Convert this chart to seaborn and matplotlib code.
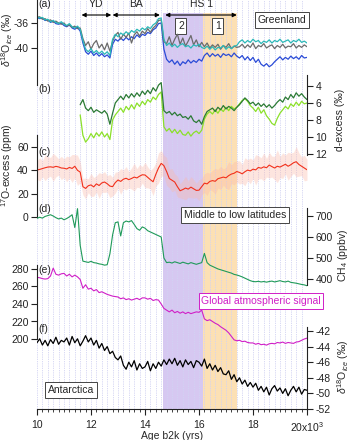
import numpy as np
import seaborn as sns
import matplotlib.pyplot as plt
from matplotlib.ticker import MultipleLocator

sns.set_style("white")
plt.rcParams['font.family'] = ['Liberation Sans', 'DejaVu Sans']
plt.rcParams['axes.unicode_minus'] = False
plt.rcParams['mathtext.fontset'] = 'custom'
plt.rcParams['mathtext.rm'] = 'Liberation Sans'
plt.rcParams['mathtext.it'] = 'Liberation Sans:italic'

# ages in ka b2k, 0.1 ka steps
ages = np.round(np.linspace(10, 20, 101), 1)
ages_dx = ages[16:]   # d-excess starts at 11.6 ka

# (a) Greenland d18O (permil)
g_gray = [-35.1, -35.0, -35.4, -35.3, -35.7, -35.5, -35.9, -35.7, -36.0, -36.2, -36.0, -36.5, -36.3, -36.7, -36.5, -36.9, -36.8,
          -38.5,
          -39.6, -39.0, -40.2, -39.3, -38.8, -40.0, -39.4, -40.3, -39.2, -40.5,
          -38.9,
          -38.0, -37.5, -38.6, -37.8, -38.3, -37.6, -39.2, -37.9, -37.4, -38.1, -37.3, -37.7, -36.9, -37.5, -36.8, -36.4,
          -35.6, -35.5,
          -39.0,
          -39.3, -38.2, -39.6, -38.6, -37.8, -39.4, -38.4, -39.7, -38.9, -38.0, -39.5, -38.7, -39.8, -39.1,
          -39.8, -39.2, -40.0, -39.5, -39.9, -39.4, -40.2, -39.6, -39.9, -39.3, -40.1, -39.7, -39.9,
          -39.8, -39.4, -40.0, -39.5, -39.9, -39.2, -40.1, -39.6, -39.8, -39.3, -40.0, -39.7, -39.5, -40.1, -39.6, -39.9,
          -39.4, -40.0, -39.7, -39.8, -39.3, -40.0, -39.6, -39.9, -39.5, -39.8]
g_cyan = [-35.0, -35.2, -35.1, -35.5, -35.4, -35.8, -35.6, -35.9, -36.1, -35.8, -36.2, -36.4, -36.1, -36.6, -36.8, -36.5, -37.0,
          -38.8,
          -40.2, -40.6, -40.1, -40.8, -40.4, -40.9, -40.5, -41.0, -40.6, -41.2,
          -38.6,
          -37.8, -38.2, -37.6, -37.9, -37.4, -37.8, -37.2, -37.5, -37.0, -37.3, -36.8, -37.1, -36.6, -36.9, -36.3, -36.0,
          -35.3, -35.2,
          -38.6,
          -39.6, -39.2, -39.8, -39.4, -39.9, -39.5, -39.3, -39.8, -39.6, -40.0, -39.5, -39.7, -39.4, -39.9,
          -40.1, -39.7, -40.2, -39.8, -40.3, -39.9, -40.0, -39.6, -40.2, -39.8, -40.1, -39.7, -39.6,
          -39.0, -38.7, -39.2, -38.8, -39.1, -38.6, -39.0, -38.8, -39.3, -38.9, -39.1, -38.7, -39.2, -38.8, -39.0, -38.6,
          -39.1, -38.9, -38.7, -39.2, -38.8, -39.0, -38.6, -39.1, -38.9, -39.2]
g_blue = [-35.1, -35.3, -35.2, -35.6, -35.5, -35.9, -35.7, -36.1, -36.2, -36.0, -36.4, -36.6, -36.3, -36.8, -37.0, -36.7, -37.3,
          -39.2,
          -40.6, -41.0, -40.5, -41.2, -40.8, -41.3, -40.9, -41.4, -41.1, -41.6,
          -39.4,
          -38.6, -38.9, -38.4, -38.8, -38.3, -38.7, -38.2, -38.5, -37.9, -38.3, -37.8, -38.0, -37.5, -37.7, -37.1, -36.8,
          -36.1, -36.0,
          -40.2,
          -41.8, -42.3, -41.9, -42.6, -42.1, -42.8, -42.2, -42.5, -41.9, -42.4, -42.0, -42.3, -41.8, -42.1,
          -41.2, -40.8, -41.4, -40.9, -41.3, -41.0, -41.5, -40.9, -41.2, -41.0, -41.4, -40.8, -41.3,
          -41.6, -41.2, -41.9, -41.4, -42.0, -41.5, -42.3, -41.8, -42.6, -42.9, -42.5, -43.0, -42.7, -42.2, -41.8, -41.4,
          -41.9, -41.5, -41.8, -41.3, -41.7, -41.4, -41.8, -41.2, -41.6, -41.5]

# (b) d-excess (permil)
dx_dark = [6.2, 5.6, 6.6, 6.9, 6.5, 7.1, 6.8, 7.0, 7.2, 6.9, 7.3, 8.5, 7.2, 6.0, 5.6, 5.2, 5.6, 5.0, 5.4, 4.9, 5.3,
           4.8, 5.2, 4.6, 5.0, 4.5, 4.9, 4.2, 4.6, 3.9, 3.6,
           6.9, 7.2, 7.0, 7.4, 7.1, 7.5, 7.3, 7.7, 7.6, 7.9, 7.5, 8.1, 8.3, 8.0, 8.5,
           7.6, 7.0, 6.8, 6.6, 7.0, 6.5, 6.8, 6.3, 6.7, 6.4, 6.6, 6.9, 6.5,
           6.2, 5.8, 5.4, 5.7, 6.1, 5.9, 6.3, 6.0, 6.4, 6.1, 6.5, 6.2, 6.6, 6.3, 5.9, 5.6,
           5.9, 5.3, 5.6, 5.0, 5.4, 4.8, 5.2, 4.9, 5.3, 5.6]
dx_light = [7.4, 9.8, 10.6, 10.2, 9.6, 10.1, 9.5, 9.9, 9.4, 10.0, 9.6, 10.3, 8.0, 7.4, 7.0, 6.6, 7.1, 6.4, 6.8, 6.2, 6.7,
            6.0, 6.4, 5.8, 6.2, 5.6, 5.9, 5.3, 5.6, 5.0, 4.7,
            8.8, 9.3, 9.0, 9.5, 9.1, 9.6, 9.2, 9.7, 9.8, 9.4, 9.9, 9.5, 9.3, 9.6, 9.2,
            7.9, 7.3, 7.0, 7.3, 6.8, 7.2, 6.7, 7.0, 6.5, 6.9, 6.4, 6.7, 6.5,
            6.1, 5.7, 5.5, 5.8, 6.3, 6.6, 7.0, 6.5, 7.2, 6.8, 7.5, 7.9, 8.4, 8.6, 7.8, 7.2,
            6.8, 6.4, 6.7, 6.1, 6.4, 5.9, 6.3, 5.8, 6.1, 6.0]

# (c) 17O-excess (ppm) and its spread
o17 = [40.3, 40.8, 41.5, 42.2, 42.8, 43.0, 42.6, 43.4, 42.9, 42.0, 41.8, 41.2, 42.5, 41.6, 43.5, 40.0, 38.5,
       26.0, 24.5, 26.8, 27.5, 25.8, 28.4, 27.0, 29.2, 30.0, 28.5, 26.5, 26.0,
       29.5, 31.7, 30.5, 32.4, 33.2, 32.0, 33.0, 34.2, 33.5, 35.0, 36.2, 36.0, 34.0, 32.0, 30.2, 36.5, 42.0, 46.0,
       44.0, 39.0, 33.0, 31.5, 30.0, 26.0, 22.5, 23.5, 24.8, 23.9, 25.6, 24.2, 22.8, 23.0, 26.0,
       29.0, 28.4, 30.5, 31.2, 30.6, 32.8, 33.5, 34.2, 33.6, 35.5, 36.8, 37.5, 39.0,
       38.2, 37.0, 38.8, 40.2, 39.5, 41.0, 40.4, 42.5, 41.8, 43.0, 42.2, 44.5, 43.2, 42.0, 43.5, 42.8,
       44.0, 45.2, 43.5, 44.8, 46.5, 47.4, 45.0, 43.5, 42.0, 40.5]
o17_err = [8, 10, 7, 11, 9, 8, 12, 9, 7, 10, 8, 11, 9, 12, 10, 13, 9,
           7, 9, 6, 10, 8, 7, 11, 8, 9, 7, 10, 8,
           9, 7, 11, 8, 10, 7, 9, 12, 8, 10, 7, 11, 9, 8, 12, 10, 13, 11,
           9, 12, 8, 10, 7, 9, 6, 8, 10, 7, 9, 8, 6, 9, 7,
           8, 10, 7, 9, 11, 8, 10, 7, 9, 12, 8, 10, 9,
           10, 8, 12, 9, 11, 8, 13, 10, 9, 12, 8, 11, 9, 10, 14, 9,
           11, 8, 12, 10, 9, 13, 10, 8, 11, 9]

# (d) CH4 (ppbv)
ch4 = [689, 694, 690, 698, 702, 706, 700, 692, 686, 690, 682, 688, 696, 706, 645, 735, 560,
       485, 482, 479, 484, 478, 476, 472, 470, 466, 468, 520,
       610, 668, 672, 605, 668, 676, 672, 678, 660, 640, 632, 648, 642, 630, 624, 618, 612, 606, 600,
       500, 478, 480, 476, 482, 478, 474, 480, 476, 472, 478, 474, 470, 474, 478,
       522, 478, 466, 460, 454, 448, 444, 440, 436, 432, 428, 422, 419,
       415, 410, 404, 398, 392, 388, 387, 389, 386, 388, 385, 388, 390, 386, 389, 392,
       388, 386, 390, 384, 382, 380, 377, 374, 372, 368]

# (e) global atmospheric signal (left axis)
co2 = [270.5, 270.0, 269.0, 268.5, 269.0, 272.0, 281.0, 274.0, 273.0, 274.5, 275.0, 272.0, 274.0, 271.0, 273.0, 271.0, 268.0,
       258.0, 262.0, 257.0, 258.0, 255.0, 256.5, 253.0, 254.0, 252.5, 251.0, 250.0, 249.0, 248.5, 248.0,
       246.0, 247.0, 245.0, 246.0, 244.5, 245.5, 246.5, 245.0, 247.0, 247.0, 245.5, 246.5, 244.0, 245.0, 244.5, 240.0,
       235.0, 233.0, 231.0, 233.0, 230.0, 231.5, 229.5, 231.0, 229.0, 230.5, 229.0, 230.0, 231.0, 230.5, 233.0,
       223.0, 221.0, 222.0, 220.0, 218.0, 216.5, 214.0, 212.0, 210.0, 207.0, 203.0, 199.0, 198.0,
       198.5, 197.0, 197.5, 196.0, 195.5, 195.5, 194.0, 195.0, 193.5, 194.0, 193.0, 194.5, 195.0, 194.5, 196.0, 195.5,
       196.5, 195.0, 196.0, 195.5, 195.0, 196.5, 197.0, 198.5, 200.0, 201.0]

# (f) Antarctic d18O (permil)
ant = [-43.5, -43.0, -43.8, -43.2, -43.9, -43.1, -43.6, -42.8, -43.7, -43.2,
       -43.4, -42.9, -43.8, -42.7, -43.5, -43.0, -43.9, -43.3, -42.6, -43.4,
       -42.9, -43.8, -43.2, -44.2, -43.6, -44.5, -44.0, -44.9, -44.6, -45.4,
       -45.7, -45.2, -46.4, -46.9, -46.0, -46.6, -45.8, -47.0, -46.2, -46.8,
       -46.6, -45.9, -47.1, -46.2, -46.8, -46.0, -46.5, -45.7, -46.3, -45.6,
       -46.2, -45.5, -46.4, -45.8, -46.6, -45.7, -46.3, -45.9, -46.7, -45.8,
       -46.0, -46.5, -45.6, -46.8, -46.2, -47.0, -46.4, -47.2, -46.7, -47.5,
       -47.6, -47.1, -48.2, -47.6, -48.5, -48.0, -48.8, -48.3, -49.1, -48.6,
       -49.2, -48.7, -49.6, -49.1, -49.8, -49.2, -50.2, -49.4, -49.0, -49.7,
       -49.3, -50.0, -49.4, -50.3, -49.6, -49.1, -49.8, -49.2, -50.1, -49.5, -49.6]

xtick_vals = [10, 12, 14, 16, 18, 20]
xtick_labels = ['10', '12', '14', '16', '18', '20x10$^{3}$']

# figure in pixels
W, H = 353, 440
L, R, TOP, BOT = 37, 307, 0, 409
fig = plt.figure(figsize=(W / 100, H / 100), dpi=100)
ax = fig.add_axes([L / W, 1 - BOT / H, (R - L) / W, (BOT - TOP) / H])


def fy(p):
    # pixel row -> axes fraction
    return (BOT - p) / (BOT - TOP)


def panel(side, v1, p1, v2, p2, bounds, ticks):
    a = ax.twinx()
    k = (v2 - v1) / (p2 - p1)
    a.set_ylim(v1 + k * (BOT - p1), v1 + k * (TOP - p1))
    for s in ['left', 'right', 'top', 'bottom']:
        a.spines[s].set_visible(s == side)
    a.spines[side].set_bounds(*bounds)
    a.spines[side].set_linewidth(0.8)
    a.spines[side].set_color('#222222')
    if side == 'left':
        a.yaxis.tick_left()
    else:
        a.yaxis.tick_right()
    a.set_yticks(ticks)
    a.tick_params(axis='y', direction='out', length=4, width=0.8, labelsize=7.5, pad=2, colors='#222222')
    a.patch.set_visible(False)
    return a


# background: shading + dotted vertical lines
ax.axvspan(14.67, 16.15, ymin=0, ymax=fy(13), color='#d6c8f1', lw=0)
ax.axvspan(16.15, 17.4, ymin=0, ymax=fy(13), color='#fce0b4', lw=0)
ax.set_xlim(10, 20)
ax.set_ylim(0, 1)
ax.set_yticks([])
ax.set_xticks(xtick_vals)
ax.set_xticklabels(xtick_labels)
ax.xaxis.set_minor_locator(MultipleLocator(0.2))
ax.set_axisbelow(False)
ax.grid(which='both', axis='x', color='#d2d3f3', lw=0.6, linestyle=(0, (1.5, 1.2)))
ax.grid(which='both', axis='y', visible=False)
for s in ['left', 'right', 'top']:
    ax.spines[s].set_visible(False)
ax.spines['bottom'].set_linewidth(0.8)
ax.spines['bottom'].set_color('#222222')
ax.tick_params(axis='x', which='major', direction='out', length=4, width=0.8, labelsize=7.5, pad=4,
               bottom=True, colors='#222222')
ax.tick_params(axis='x', which='minor', direction='out', length=2.5, width=0.6, bottom=True, colors='#222222')
ax.set_xlabel('Age b2k (yrs)', fontsize=7.5, labelpad=-2)

# (a) Greenland
a1 = panel('left', -36, 23, -40, 48, (-46, -32.3), [-36, -40])
sns.lineplot(x=ages, y=g_blue, ax=a1, color='#2a4bd7', lw=0.9)
sns.lineplot(x=ages, y=g_gray, ax=a1, color='#6b6b6b', lw=0.9)
sns.lineplot(x=ages, y=g_cyan, ax=a1, color='#2bb8b8', lw=0.9)

# (b) d-excess (inverted right axis)
a2 = panel('right', 4, 86, 12, 154, (2.7, 12.1), [4, 6, 8, 10, 12])
sns.lineplot(x=ages_dx, y=dx_light, ax=a2, color='#8be02a', lw=0.9)
sns.lineplot(x=ages_dx, y=dx_dark, ax=a2, color='#2b7a35', lw=0.9)

# (c) 17O-excess
a3 = panel('left', 60, 147, 0, 217, (0, 70), [0, 20, 40, 60])
lo = np.array(o17) - np.array(o17_err)
hi = np.array(o17) + np.array(o17_err)
a3.fill_between(ages, lo, hi, color='#fcb7a6', alpha=0.35, lw=0)
sns.lineplot(x=ages, y=o17, ax=a3, color='#f2301b', lw=0.8)

# (d) CH4
a4 = panel('right', 700, 216, 400, 279, (370, 740), [400, 500, 600, 700])
sns.lineplot(x=ages, y=ch4, ax=a4, color='#1f9a5a', lw=0.8)

# (e) global atmospheric signal
a5 = panel('left', 280, 269, 200, 339, (200, 285), [200, 220, 240, 260, 280])
sns.lineplot(x=ages, y=co2, ax=a5, color='#d01fc7', lw=0.8)

# (f) Antarctica
a6 = panel('right', -42, 331, -52, 409, (-52, -41.5), [-42, -44, -46, -48, -50, -52])
sns.lineplot(x=ages, y=ant, ax=a6, color='black', lw=0.9)

for a in [a1, a2, a3, a4, a5, a6]:
    a.set_xlim(10, 20)
    a.set_xlabel('')
    a.set_ylabel('')

# arrows for YD / BA / HS 1
tr = ax.get_xaxis_transform()
for x0, x1, lab, xl in [(11.65, 12.75, 'YD', 12.2), (12.8, 14.55, 'BA', 13.65), (14.75, 17.4, 'HS 1', 16.1)]:
    ax.annotate('', xy=(x0, fy(15)), xytext=(x1, fy(15)), xycoords=tr, textcoords=tr,
                arrowprops=dict(arrowstyle='<|-|>', color='black', lw=0.8, mutation_scale=6, shrinkA=0, shrinkB=0))
    ax.text(xl, fy(4), lab, transform=tr, ha='center', va='center', fontsize=7.5)

box = dict(boxstyle='square,pad=0.25', fc='white', ec='#444444', lw=0.7)
ax.text(15.33, fy(26), '2', transform=tr, ha='center', va='center', fontsize=7.5, bbox=box, zorder=10)
ax.text(16.7, fy(26), '1', transform=tr, ha='center', va='center', fontsize=7.5, bbox=box, zorder=10)

# region labels
fig.text(282 / W, 1 - 20 / H, 'Greenland', ha='center', va='center', fontsize=7.5, bbox=box)
fig.text(235 / W, 1 - 215 / H, 'Middle to low latitudes', ha='center', va='center', fontsize=7.5, bbox=box)
fig.text(261 / W, 1 - 301 / H, 'Global atmospheric signal', ha='center', va='center', fontsize=7.5,
         color='#d01fc7', bbox=dict(boxstyle='square,pad=0.25', fc='white', ec='#d01fc7', lw=0.7))
fig.text(71 / W, 1 - 390 / H, 'Antarctica', ha='center', va='center', fontsize=7.5, bbox=box)

# panel letters
for lab, p in [('(a)', 4), ('(b)', 89), ('(c)', 152), ('(d)', 209), ('(e)', 270), ('(f)', 329)]:
    fig.text(38 / W, 1 - p / H, lab, ha='left', va='center', fontsize=7.5)

# axis titles
fig.text(7 / W, 1 - 40 / H, r'$\delta^{18}$O$_{ice}$ (‰)', rotation=90, ha='center', va='center', fontsize=7.5)
fig.text(7 / W, 1 - 165 / H, r'$^{17}$O-excess (ppm)', rotation=90, ha='center', va='center', fontsize=7.5)
fig.text(340 / W, 1 - 120 / H, 'd-excess (‰)', rotation=90, ha='center', va='center', fontsize=7.5)
fig.text(343 / W, 1 - 255 / H, r'CH$_4$ (ppbv)', rotation=90, ha='center', va='center', fontsize=7.5)
fig.text(343 / W, 1 - 367 / H, r'$\delta^{18}$O$_{ice}$ (‰)', rotation=90, ha='center', va='center', fontsize=7.5)

fig.savefig('out.png', dpi=100)
